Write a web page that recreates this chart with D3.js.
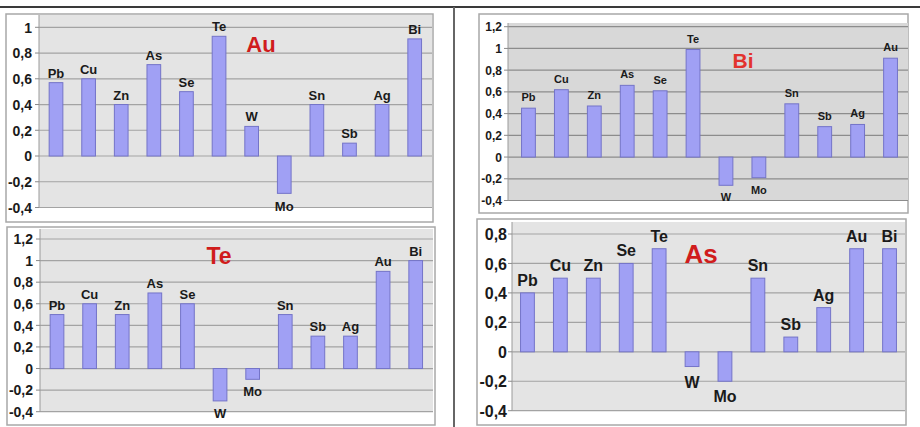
<!DOCTYPE html>
<html>
<head>
<meta charset="utf-8">
<script src="https://cdn.jsdelivr.net/npm/d3@7"></script>
<style>
  html, body { margin: 0; padding: 0; background: #ffffff; }
  svg { display: block; font-family: "Liberation Sans", Arial, sans-serif; }
</style>
</head>
<body>
<svg id="chart" width="920" height="427"></svg>
<script>
// ---- Data ----
const categoriesAu = ["Pb","Cu","Zn","As","Se","Te","W","Mo","Sn","Sb","Ag","Bi"];
const valuesAu     = [0.57, 0.6, 0.4, 0.71, 0.5, 0.93, 0.23, -0.29, 0.4, 0.1, 0.4, 0.91];

const categoriesBi = ["Pb","Cu","Zn","As","Se","Te","W","Mo","Sn","Sb","Ag","Au"];
const valuesBi     = [0.45, 0.62, 0.47, 0.66, 0.61, 0.99, -0.26, -0.19, 0.49, 0.28, 0.3, 0.91];

const categoriesTe = ["Pb","Cu","Zn","As","Se","W","Mo","Sn","Sb","Ag","Au","Bi"];
const valuesTe     = [0.5, 0.6, 0.5, 0.7, 0.6, -0.3, -0.1, 0.5, 0.3, 0.3, 0.9, 1.0];

const categoriesAs = ["Pb","Cu","Zn","Se","Te","W","Mo","Sn","Sb","Ag","Au","Bi"];
const valuesAs     = [0.4, 0.5, 0.5, 0.6, 0.7, -0.1, -0.2, 0.5, 0.1, 0.3, 0.7, 0.7];

const ticksAu = [-0.4, -0.2, 0, 0.2, 0.4, 0.6, 0.8, 1];
const ticksBi = [-0.4, -0.2, 0, 0.2, 0.4, 0.6, 0.8, 1, 1.2];
const ticksTe = [-0.4, -0.2, 0, 0.2, 0.4, 0.6, 0.8, 1, 1.2];
const ticksAs = [-0.4, -0.2, 0, 0.2, 0.4, 0.6, 0.8];

const titles = ["Au", "Bi", "Te", "As"];

// ---- Layout (positions / styles only) ----
const panels = [
  { title: titles[0], cats: categoriesAu, vals: valuesAu, ticks: ticksAu,
    frame: [6, 14, 433, 222], plot: [39, 15, 432], band: [39.7, 431],
    yMax: 1, yMaxPx: 27.3, yMinPx: 207.5,
    bg: "#e4e4e4", grid: "#a3a3a3", tickFs: 14, labFs: 13, gapA: 5, gapB: 18,
    tx: 261, ty: 52, tFs: 22, tCol: "#d01c1c", labRight: 32 },
  { title: titles[1], cats: categoriesBi, vals: valuesBi, ticks: ticksBi,
    frame: [479, 14, 908, 213], plot: [508, 23, 908], band: [512, 907],
    yMax: 1.2, yMaxPx: 26.7, yMinPx: 200.5,
    bg: "#d8d8d8", grid: "#8c8c8c", tickFs: 12, labFs: 11, gapA: 7, gapB: 16,
    tx: 743, ty: 68, tFs: 21, tCol: "#e2332e", labRight: 502 },
  { title: titles[2], cats: categoriesTe, vals: valuesTe, ticks: ticksTe,
    frame: [7, 227, 435, 425], plot: [40, 229, 433], band: [40.7, 432],
    yMax: 1.2, yMaxPx: 239, yMinPx: 411.7,
    bg: "#e4e4e4", grid: "#a3a3a3", tickFs: 14, labFs: 13, gapA: 5, gapB: 17,
    tx: 219, ty: 264, tFs: 23, tCol: "#d01c1c", labRight: 33 },
  { title: titles[3], cats: categoriesAs, vals: valuesAs, ticks: ticksAs,
    frame: [477, 219, 906, 425], plot: [512, 222, 905], band: [511, 906],
    yMax: 0.8, yMaxPx: 234, yMinPx: 410.7,
    bg: "#e4e4e4", grid: "#a3a3a3", tickFs: 16, labFs: 16, gapA: 7, gapB: 21,
    tx: 701, ty: 263, tFs: 26, tCol: "#d01c1c", labRight: 507 }
];

const svg = d3.select("#chart");
const fmt = v => String(Math.round(v * 10) / 10).replace(".", ",");

// outer separators
svg.append("line").attr("x1", 0).attr("x2", 920).attr("y1", 7).attr("y2", 7)
  .attr("stroke", "#3a3a3a").attr("stroke-width", 2);
svg.append("line").attr("x1", 454).attr("x2", 454).attr("y1", 7).attr("y2", 427)
  .attr("stroke", "#666666").attr("stroke-width", 2);

panels.forEach(p => {
  const g = svg.append("g");
  const [fx0, fy0, fx1, fy1] = p.frame;
  g.append("rect").attr("x", fx0).attr("y", fy0)
    .attr("width", fx1 - fx0).attr("height", fy1 - fy0)
    .attr("fill", "#ffffff").attr("stroke", "#a8a8a8").attr("stroke-width", 1.5);

  const y = d3.scaleLinear().domain([-0.4, p.yMax]).range([p.yMinPx, p.yMaxPx]);
  const x = d3.scaleBand().domain(p.cats).range(p.band)
    .paddingInner(0.58).paddingOuter(0.29);

  const [px0, pTop, px1] = p.plot;
  g.append("rect").attr("x", px0).attr("y", pTop)
    .attr("width", px1 - px0).attr("height", p.yMinPx - pTop)
    .attr("fill", p.bg);

  // gridlines
  g.selectAll(".grid").data(p.ticks).enter().append("line")
    .attr("x1", px0).attr("x2", px1)
    .attr("y1", d => y(d)).attr("y2", d => y(d))
    .attr("stroke", p.grid).attr("stroke-width", 1.2);

  // axis line + ticks
  g.append("line").attr("x1", px0).attr("x2", px0)
    .attr("y1", pTop).attr("y2", p.yMinPx)
    .attr("stroke", "#9a9a9a").attr("stroke-width", 1);
  g.selectAll(".tk").data(p.ticks).enter().append("line")
    .attr("x1", px0 - 4).attr("x2", px0)
    .attr("y1", d => y(d)).attr("y2", d => y(d))
    .attr("stroke", "#8a8a8a").attr("stroke-width", 1);

  // tick labels
  g.selectAll(".tl").data(p.ticks).enter().append("text")
    .attr("x", p.labRight).attr("y", d => y(d))
    .attr("dy", "0.38em").attr("text-anchor", "end")
    .attr("font-size", p.tickFs).attr("font-weight", "bold").attr("fill", "#1a1a1a")
    .text(d => fmt(d));

  const data = p.cats.map((c, i) => ({ c, v: p.vals[i] }));

  // bars
  g.selectAll(".bar").data(data).enter().append("rect")
    .attr("x", d => x(d.c)).attr("width", x.bandwidth())
    .attr("y", d => y(Math.max(0, d.v)))
    .attr("height", d => Math.abs(y(d.v) - y(0)))
    .attr("fill", "#a0a0f4").attr("stroke", "#7474c8").attr("stroke-width", 1);

  // bar labels
  g.selectAll(".bl").data(data).enter().append("text")
    .attr("x", d => x(d.c) + x.bandwidth() / 2)
    .attr("y", d => d.v >= 0 ? y(d.v) - p.gapA : y(d.v) + p.gapB)
    .attr("text-anchor", "middle")
    .attr("font-size", p.labFs).attr("font-weight", "bold").attr("fill", "#1a1a1a")
    .text(d => d.c);

  // title
  g.append("text").attr("x", p.tx).attr("y", p.ty)
    .attr("text-anchor", "middle").attr("font-size", p.tFs)
    .attr("font-weight", "bold").attr("fill", p.tCol)
    .text(p.title);
});
</script>
</body>
</html>
